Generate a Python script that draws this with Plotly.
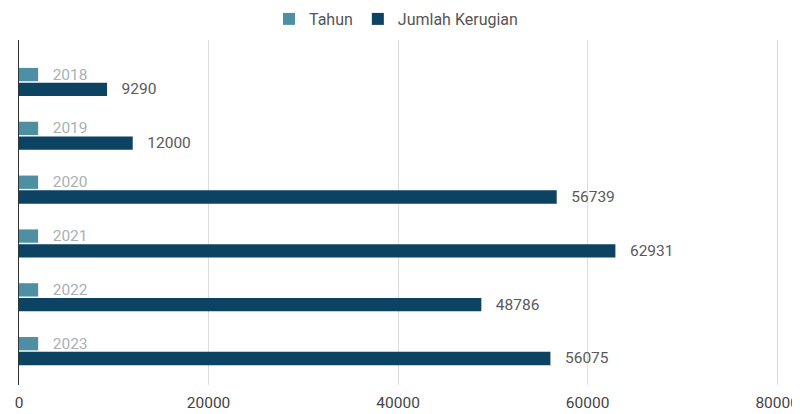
import plotly.graph_objects as go

years = ["2018", "2019", "2020", "2021", "2022", "2023"]
tahun_values = [2018, 2019, 2020, 2021, 2022, 2023]
kerugian_values = [9290, 12000, 56739, 62931, 48786, 56075]
x_ticks = [0, 20000, 40000, 60000, 80000]

teal = "#4f8fa3"
navy = "#0c4262"
pad = "\u00a0\u00a0\u00a0"

# page body has an 8px margin, so the figure is sized to fit 800x414 window
W, H = 792, 406

fig = go.Figure()
fig.add_trace(go.Bar(
    y=years, x=tahun_values, name="Tahun", orientation="h",
    marker=dict(color=teal, line=dict(width=0)),
    text=[pad + str(v) for v in tahun_values], textposition="outside",
    textfont=dict(color="#a9b0b5", size=15.5), cliponaxis=False,
))
fig.add_trace(go.Bar(
    y=years, x=kerugian_values, name="Jumlah Kerugian", orientation="h",
    marker=dict(color=navy, line=dict(width=0)),
    text=[pad + str(v) for v in kerugian_values], textposition="outside",
    textfont=dict(color="#5a5a5a", size=15.5), cliponaxis=False,
))

fig.update_layout(
    width=W, height=H,
    margin=dict(l=11, r=20, t=32, b=29, autoexpand=False),
    paper_bgcolor="white", plot_bgcolor="white",
    font=dict(family="Roboto, Arial, sans-serif", size=15, color="#444444"),
    barmode="group", bargap=0.45, bargroupgap=0.1,
    showlegend=True,
    legend=dict(orientation="h", x=(396 - 8) / W, xanchor="center", xref="container",
                y=1 - 11 / H, yanchor="middle", yref="container",
                font=dict(size=16, color="#555555"), traceorder="normal"),
    xaxis=dict(range=[0, 80300], tickvals=x_ticks, ticktext=[str(v) for v in x_ticks],
               showgrid=True, gridcolor="#dddddd", gridwidth=1, zeroline=False,
               showline=False, ticks="", automargin=False, ticklabelstandoff=6,
               tickfont=dict(size=15.5, color="#444444")),
    yaxis=dict(type="category", range=[5.63, -0.78], showticklabels=False,
               showgrid=False, zeroline=False, showline=True, linecolor="#333333",
               linewidth=1, ticks="", automargin=False),
)
fig.update_traces(textangle=0, constraintext="none")

fig.write_html("out.html")
